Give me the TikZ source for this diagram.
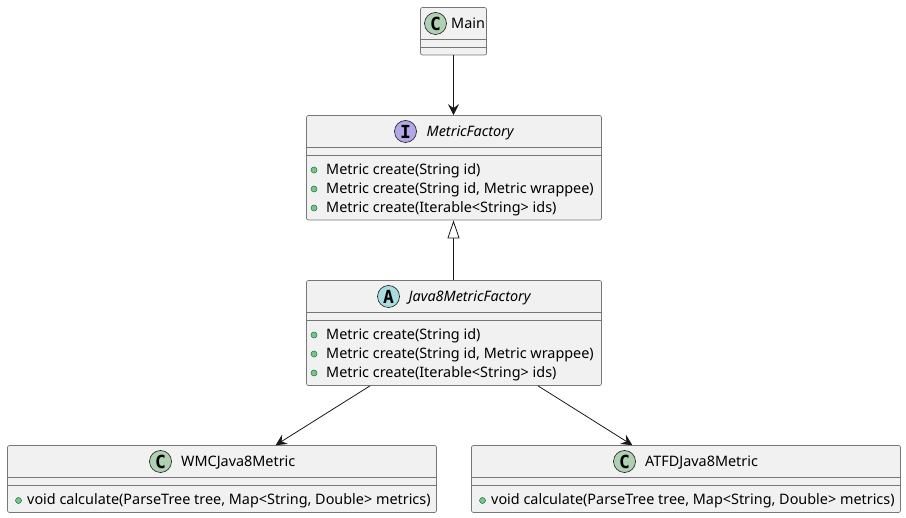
\documentclass[tikz,border=0pt]{standalone}
\usepackage{fontspec}
\setmainfont{Noto Sans}
\newfontfamily\glyphfont{DejaVu Sans Mono}
\usetikzlibrary{arrows.meta}
\definecolor{colorBox}{HTML}{f1f1f1}
\definecolor{colorLine}{HTML}{777777}
\definecolor{colorEdge}{HTML}{181818}
\definecolor{colorClass}{HTML}{add1b2}
\definecolor{colorIface}{HTML}{b4a7e5}
\definecolor{colorAbstract}{HTML}{a9dcdf}
\definecolor{colorDot}{HTML}{84be84}
\definecolor{colorDotLine}{HTML}{038048}
\tikzset{
  classbox/.style={
    draw=colorLine,fill=colorBox,rounded corners=2pt,line width=0.7pt,inner sep=0pt,
  },
  divider/.style={draw=colorLine,line width=0.7pt},
  spot/.style={
    circle,draw=colorEdge,line width=0.6pt,minimum size=22pt,inner sep=0pt,
    font=\glyphfont\bfseries\fontsize{18}{18}\selectfont,
  },
  title/.style={anchor=base west,inner sep=0pt,font=\fontsize{14.4}{16}\selectfont},
  member/.style={anchor=base west,inner sep=0pt,font=\fontsize{14.4}{16}\selectfont},
  dot/.style={circle,draw=colorDotLine,fill=colorDot,line width=0.5pt,minimum size=6pt,inner sep=0pt},
  uses/.style={draw=colorEdge,line width=0.8pt,-{Stealth[length=11pt,width=11pt,inset=4pt]}},
  extends/.style={draw=colorEdge,line width=0.8pt,-{Triangle[open,length=18pt,width=12pt,fill=white]}},
}

\begin{document}
\begin{tikzpicture}[x=1pt,y=-1pt]
   \useasboundingbox (0,0) rectangle (906,518);

   % BOXES
   \node[classbox,minimum width=66pt,minimum height=47.5pt] (main) at (453.5, 31.25) {};
   \node[classbox,minimum width=295pt,minimum height=104.5pt] (factory) at (454, 167.75) {};
   \node[classbox,minimum width=295pt,minimum height=105pt] (java8) at (454, 333) {};
   \node[classbox,minimum width=429pt,minimum height=67pt] (wmc) at (222, 479) {};
   \node[classbox,minimum width=429pt,minimum height=67pt] (atfd) at (686, 479) {};

   % DIVIDERS
   \path[divider] (420.5, 39.5)--(486.5, 39.5);
   \path[divider] (420.5, 47.5)--(486.5, 47.5);
   \path[divider] (306.5, 147.5)--(601.5, 147.5);
   \path[divider] (306.5, 155.5)--(601.5, 155.5);
   \path[divider] (306.5, 312.5)--(601.5, 312.5);
   \path[divider] (306.5, 320.5)--(601.5, 320.5);
   \path[divider] (7.5, 477.5)--(436.5, 477.5);
   \path[divider] (7.5, 485.5)--(436.5, 485.5);
   \path[divider] (471.5, 477.5)--(900.5, 477.5);
   \path[divider] (471.5, 485.5)--(900.5, 485.5);

   % TITLES
   \node[spot,fill=colorClass] (mainspot) at (435.5, 23.5) {C};
   \node[title] (maintitle) at (451, 29) {Main};
   \node[spot,fill=colorIface] (factoryspot) at (405.5, 131.5) {I};
   \node[title] (factorytitle) at (426.5, 137) {\itshape MetricFactory};
   \node[spot,fill=colorAbstract] (java8spot) at (388.5, 296.5) {A};
   \node[title] (java8title) at (408.5, 302) {\itshape Java8MetricFactory};
   \node[spot,fill=colorClass] (wmcspot) at (160.5, 461.5) {C};
   \node[title] (wmctitle) at (181, 467) {WMCJava8Metric};
   \node[spot,fill=colorClass] (atfdspot) at (624.5, 461.5) {C};
   \node[title] (atfdtitle) at (645, 467) {ATFDJava8Metric};

   % MEMBERS
   \node[dot] (f0) at (314, 170) {};
   \node[member] (m0) at (326, 174.5) {Metric create(String id)};
   \node[dot] (f1) at (314, 189) {};
   \node[member] (m1) at (326, 193.5) {Metric create(String id, Metric wrappee)};
   \node[dot] (f2) at (314, 208) {};
   \node[member] (m2) at (326, 212.5) {Metric create(Iterable<String> ids)};

   \node[dot] (j0) at (314, 335) {};
   \node[member] (n0) at (326, 339.5) {Metric create(String id)};
   \node[dot] (j1) at (314, 354) {};
   \node[member] (n1) at (326, 358.5) {Metric create(String id, Metric wrappee)};
   \node[dot] (j2) at (314, 373) {};
   \node[member] (n2) at (326, 377.5) {Metric create(Iterable<String> ids)};

   \node[dot] (w0) at (18.5, 500.5) {};
   \node[member] (w1) at (27, 504.5) {void calculate(ParseTree tree, Map<String, Double> metrics)};
   \node[dot] (a0) at (482.5, 500.5) {};
   \node[member] (a1) at (491, 504.5) {void calculate(ParseTree tree, Map<String, Double> metrics)};

   % CONNECTORS
   \path[uses] (main)--(main |- factory.north);
   \path[extends] (main |- java8.north)--(main |- factory.south);
   \path[uses] (java8)--(wmc);
   \path[uses] (java8)--(atfd);

\end{tikzpicture}
\end{document}
